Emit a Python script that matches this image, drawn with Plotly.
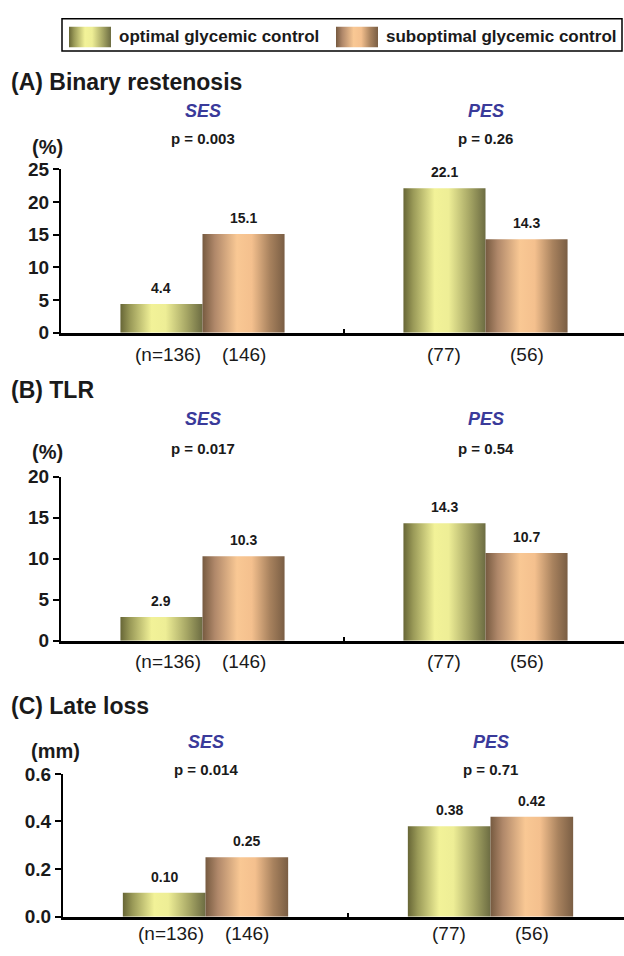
import plotly.graph_objects as go

# ---------------- data ----------------
stents = ["SES", "PES"]
groups = ["optimal glycemic control", "suboptimal glycemic control"]

panel_titles = ["(A) Binary restenosis", "(B) TLR", "(C) Late loss"]
units = ["(%)", "(%)", "(mm)"]

restenosis_optimal = [4.4, 22.1]
restenosis_suboptimal = [15.1, 14.3]
tlr_optimal = [2.9, 14.3]
tlr_suboptimal = [10.3, 10.7]
lateloss_optimal = [0.10, 0.38]
lateloss_suboptimal = [0.25, 0.42]

restenosis_labels_opt = ["4.4", "22.1"]
restenosis_labels_sub = ["15.1", "14.3"]
tlr_labels_opt = ["2.9", "14.3"]
tlr_labels_sub = ["10.3", "10.7"]
lateloss_labels_opt = ["0.10", "0.38"]
lateloss_labels_sub = ["0.25", "0.42"]

p_restenosis = ["p = 0.003", "p = 0.26"]
p_tlr = ["p = 0.017", "p = 0.54"]
p_lateloss = ["p = 0.014", "p = 0.71"]

n_optimal = ["(n=136)", "(77)"]
n_suboptimal = ["(146)", "(56)"]

y_ticks_restenosis = [0, 5, 10, 15, 20, 25]
y_ticks_tlr = [0, 5, 10, 15, 20]
y_ticks_lateloss = [0.0, 0.2, 0.4, 0.6]
y_ticktext_lateloss = ["0.0", "0.2", "0.4", "0.6"]

# ---------------- styling ----------------
W, H = 624, 956
FONT = "Liberation Sans, Arial, sans-serif"
INK = "#1a1a1a"
BLUE = "#3a3a9a"
GREEN_SCALE = [[0, "#676636"], [0.12, "#9a9a58"], [0.38, "#f2f298"], [0.55, "#eeee96"],
               [0.8, "#a8a866"], [1, "#6c6c42"]]
ORANGE_SCALE = [[0, "#765a40"], [0.15, "#b0886a"], [0.42, "#f9c894"], [0.6, "#f4c08e"],
                [0.82, "#a8825e"], [1, "#7a5e44"]]
BAR_W = 0.29


def px(x):
    return x / W


def py(y):
    return 1 - y / H


def ann(**kw):
    d = dict(showarrow=False, xanchor="center", yanchor="middle")
    d.update(kw)
    return d


panels = [
    dict(opt=restenosis_optimal, sub=restenosis_suboptimal, lo=restenosis_labels_opt,
         ls=restenosis_labels_sub, p=p_restenosis, ticks=y_ticks_restenosis,
         ticktext=[str(t) for t in y_ticks_restenosis], ymax=25,
         top=163, bot=330, x0=61, ppu=283, title_y=74, ses_y=103, p_y=131, unit_y=140, unit_x=47, n_y=352),
    dict(opt=tlr_optimal, sub=tlr_suboptimal, lo=tlr_labels_opt, ls=tlr_labels_sub, p=p_tlr,
         ticks=y_ticks_tlr, ticktext=[str(t) for t in y_ticks_tlr], ymax=20,
         top=477, bot=645, x0=61, ppu=283, title_y=389, ses_y=418, p_y=448, unit_y=452, unit_x=47, n_y=666),
    dict(opt=lateloss_optimal, sub=lateloss_suboptimal, lo=lateloss_labels_opt, ls=lateloss_labels_sub,
         p=p_lateloss, ticks=y_ticks_lateloss, ticktext=y_ticktext_lateloss, ymax=0.6,
         top=781, bot=927, x0=63, ppu=285, title_y=712, ses_y=748, p_y=777, unit_y=758, unit_x=55, n_y=944),
]

fig = go.Figure()
annotations = []
layout = {}

for i, pn in enumerate(panels):
    k = "" if i == 0 else str(i + 1)
    xa, ya = "x" + k, "y" + k
    xmax = -0.5 + (W - pn["x0"]) / pn["ppu"]
    layout["xaxis" + k] = dict(
        domain=[px(pn["x0"]), 1], range=[-0.5, xmax], anchor=ya,
        showline=True, linecolor="black", linewidth=2.5, zeroline=False,
        showgrid=False, tickvals=[0.5], ticks="inside", ticklen=4, tickwidth=1.5,
        tickcolor="black", showticklabels=False, fixedrange=True)
    layout["yaxis" + k] = dict(
        domain=[py(pn["bot"]), py(pn["top"])], range=[0, pn["ymax"]], anchor=xa,
        showline=True, linecolor="black", linewidth=2, zeroline=False, showgrid=False,
        tickvals=pn["ticks"], ticktext=pn["ticktext"], ticks="outside", ticklen=6,
        tickwidth=2, tickcolor="black",
        tickfont=dict(family=FONT, size=19, color=INK, weight="bold"), fixedrange=True)

    for j, st in enumerate(stents):
        for vals, labs, scale, sign, name in [
            (pn["opt"], pn["lo"], GREEN_SCALE, -1, groups[0]),
            (pn["sub"], pn["ls"], ORANGE_SCALE, 1, groups[1]),
        ]:
            v = vals[j]
            xa_ = j if sign > 0 else j - BAR_W
            xb_ = j + BAR_W if sign > 0 else j
            fig.add_trace(go.Scatter(
                x=[xa_, xb_, xb_, xa_, xa_], y=[0, 0, v, v, 0],
                mode="lines", line=dict(width=0), fill="toself",
                fillgradient=dict(type="horizontal", colorscale=scale),
                xaxis=xa, yaxis=ya, showlegend=False, hoverinfo="skip", name=name))
            annotations.append(ann(
                x=(xa_ + xb_) / 2, y=v, xref=xa, yref=ya, text=labs[j],
                yanchor="bottom", yshift=6,
                font=dict(family=FONT, size=14, color=INK, weight="bold")))
        annotations.append(ann(x=j - BAR_W / 2, y=py(pn["n_y"]), xref=xa, yref="paper",
                               text=n_optimal[j], xshift=7 if j == 0 else 0,
                               font=dict(family=FONT, size=19, color=INK)))
        annotations.append(ann(x=j + BAR_W / 2, y=py(pn["n_y"]), xref=xa, yref="paper",
                               text=n_suboptimal[j],
                               font=dict(family=FONT, size=19, color=INK)))
        annotations.append(ann(x=j, y=py(pn["ses_y"]), xref=xa, yref="paper",
                               text="<i>" + st + "</i>",
                               font=dict(family=FONT, size=18, color=BLUE, weight="bold")))
        annotations.append(ann(x=j, y=py(pn["p_y"]), xref=xa, yref="paper",
                               text=pn["p"][j],
                               font=dict(family=FONT, size=15, color=INK, weight="bold")))

    annotations.append(ann(x=px(9), y=py(pn["title_y"]), xref="paper", yref="paper",
                           xanchor="left", text=panel_titles[i],
                           font=dict(family=FONT, size=23, color=INK, weight="bold")))
    annotations.append(ann(x=px(pn["unit_x"]), y=py(pn["unit_y"]), xref="paper", yref="paper",
                           text=units[i],
                           font=dict(family=FONT, size=20, color=INK, weight="bold")))

# ---------------- legend (manual, top box) ----------------
layout["xaxis4"] = dict(domain=[0, 1], range=[0, W], visible=False, anchor="y4", fixedrange=True)
layout["yaxis4"] = dict(domain=[0, 1], range=[H, 0], visible=False, anchor="x4", fixedrange=True)
for (sx0, sx1), scale in [((69, 111), GREEN_SCALE), ((336, 378), ORANGE_SCALE)]:
    fig.add_trace(go.Scatter(
        x=[sx0, sx1, sx1, sx0, sx0], y=[17, 17, 38, 38, 17], mode="lines",
        line=dict(width=0), fill="toself",
        fillgradient=dict(type="horizontal", colorscale=scale),
        xaxis="x4", yaxis="y4", showlegend=False, hoverinfo="skip"))
annotations.append(ann(x=px(117), y=py(27), xref="paper", yref="paper", xanchor="left",
                       text=groups[0],
                       font=dict(family=FONT, size=17, color=INK, weight="bold")))
annotations.append(ann(x=px(384), y=py(27), xref="paper", yref="paper", xanchor="left",
                       text=groups[1],
                       font=dict(family=FONT, size=17, color=INK, weight="bold")))

shapes = [dict(type="rect", xref="paper", yref="paper", x0=px(62), x1=px(622),
               y0=py(42), y1=py(9), line=dict(color="black", width=1.5))]

fig.update_layout(
    width=W, height=H, margin=dict(l=0, r=0, t=0, b=0),
    paper_bgcolor="white", plot_bgcolor="rgba(0,0,0,0)",
    showlegend=False, annotations=annotations, shapes=shapes, **layout)

post = """
var gd = document.getElementById('{plot_id}');
var de = document.documentElement, b = document.body;
de.style.margin = '0'; de.style.padding = '0'; de.style.overflow = 'hidden';
b.style.margin = '0'; b.style.padding = '0'; b.style.overflow = 'hidden';
gd.style.position = 'fixed'; gd.style.top = '0px'; gd.style.left = '0px';
"""

fig.write_html("out.html", config={"displayModeBar": False}, post_script=post)
